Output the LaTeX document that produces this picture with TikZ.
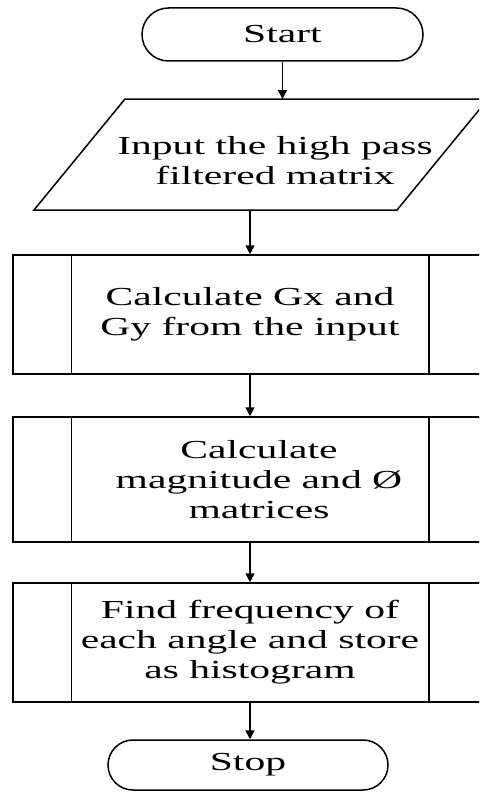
\documentclass[tikz,border=0pt]{standalone}
\usepackage{fontspec}
\setmainfont[FakeStretch=1.6]{Liberation Serif}
\usetikzlibrary{shapes.misc,arrows.meta}
\begin{document}
\begin{tikzpicture}[x=1pt,y=1pt,
  line width=1.5pt,
  txt/.style={font=\fontsize{26}{30}\selectfont, align=center},
  term/.style={draw, rounded rectangle, minimum width=281pt, minimum height=53pt, inner sep=0pt, txt},
  procbox/.style={draw, rectangle, minimum width=474pt, inner sep=0pt, txt},
  arr/.style={-{Triangle[length=9pt,width=9pt]}},
]
\useasboundingbox (0,0) rectangle (479,-792);
\clip (0,0) rectangle (479,-792);
% Start
\node[term] (start) at (282.5,-34.5) {Start};
% Input parallelogram
\draw (125,-99) -- (488,-99) -- (397,-210) -- (34,-210) -- cycle;
\coordinate (inpTop) at (282.5,-99);
\coordinate (inpBot) at (250,-210);
\node[txt] (inp) at (275,-161) {Input the high pass\\filtered matrix};
% Process boxes
\node[procbox, minimum height=119pt] (b1) at (250,-314.5) {Calculate Gx and\\Gy from the input};
\node[procbox, minimum height=125pt] (b2) at (250,-479.5) {};
\node[txt] (b2t) at (259,-479.5) {Calculate\\magnitude and Ø\\matrices};
\node[procbox, minimum height=119pt] (b3) at (250,-642.5) {Find frequency of\\each angle and store\\as histogram};
\foreach \b in {b1,b2,b3}{
  \draw ([xshift=59pt]\b.north west) -- ([xshift=59pt]\b.south west);
  \draw ([xshift=-59pt]\b.north east) -- ([xshift=-59pt]\b.south east);
}
% Stop
\node[term, minimum width=280pt, minimum height=50pt] (stop) at (248,-765) {Stop};
% Connectors
\draw[arr] (start.south) -- (inpTop);
\draw[arr] (inpBot) -- (b1.north);
\draw[arr] (b1.south) -- (b2.north);
\draw[arr] (b2.south) -- (b3.north);
\draw[arr] (b3.south) -- (b3.south |- stop.north);
\end{tikzpicture}
\end{document}
